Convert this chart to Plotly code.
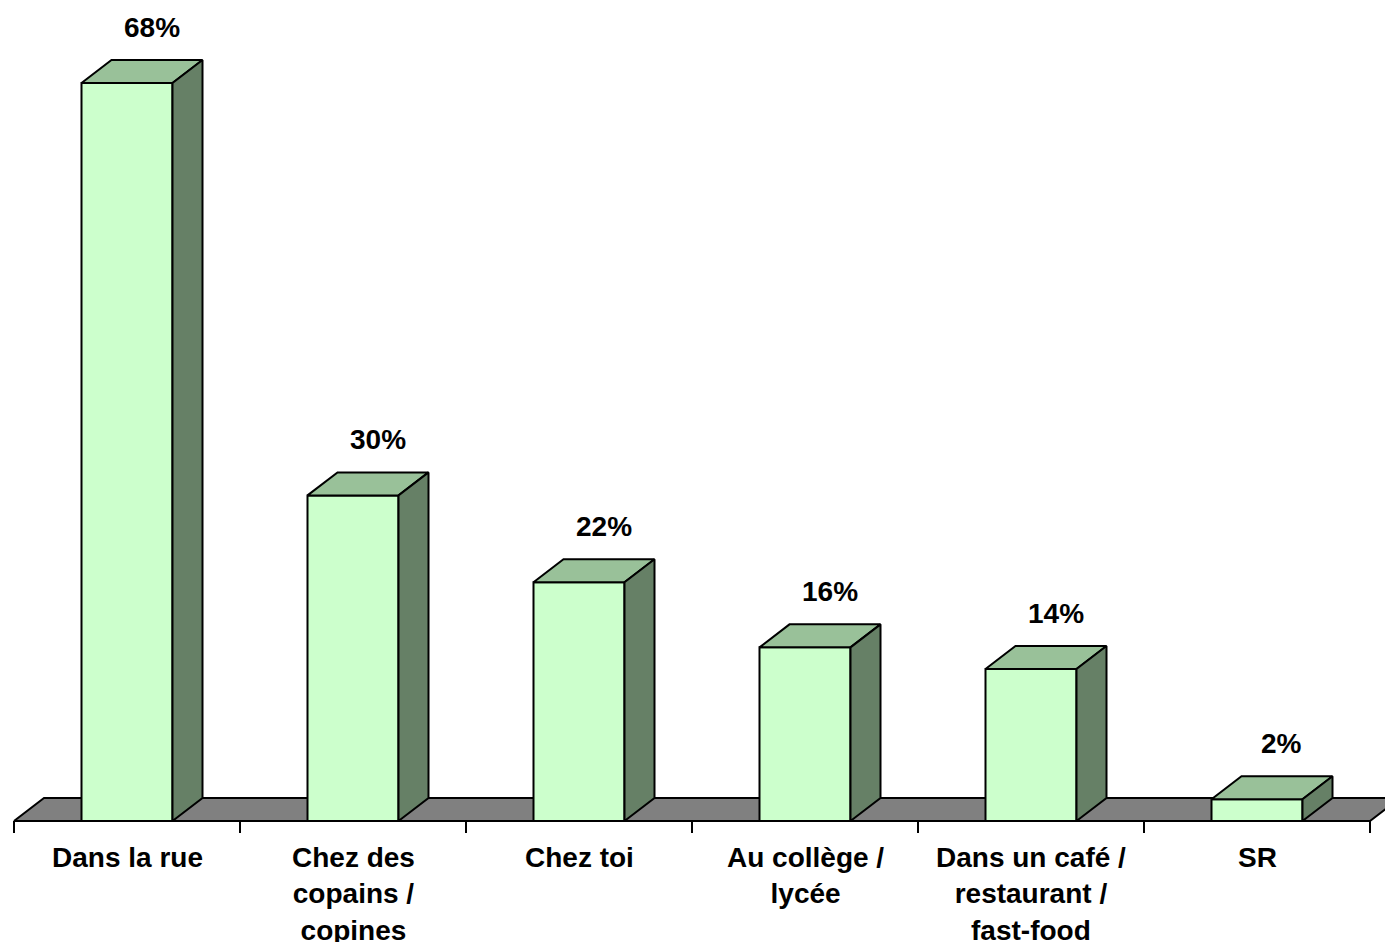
import plotly.graph_objects as go

# ---- data ----
categories = ["Dans la rue", "Chez des<br>copains /<br>copines", "Chez toi",
              "Au collège /<br>lycée", "Dans un café /<br>restaurant /<br>fast-food", "SR"]
values = [68, 30, 22, 16, 14, 2]
value_labels = [f"{v}%" for v in values]

# ---- style / geometry ----
W, H = 1385, 942
PX_X = 226.0            # px per category slot
PX_Y = 738 / 68         # px per percent
BASE_PX = 821           # pixel row of y=0
LEFT_PX = 14            # pixel col of x=-0.5
HW = 45.5 / PX_X        # half bar width
DX = 30 / PX_X          # 3D depth x
DY = 23 / PX_Y          # 3D depth y
FRONT = "#CCFFCC"
TOP = "#99C199"
SIDE = "#668066"
FLOOR = "#808080"
FONT = "Liberation Sans, Arial, sans-serif"
FS = 28

x0 = -0.5 - LEFT_PX / PX_X
x1 = x0 + W / PX_X
y1 = BASE_PX / PX_Y
y0 = y1 - H / PX_Y

n = len(values)
fig = go.Figure()


def poly(xs, ys, color):
    fig.add_trace(go.Scatter(x=xs + [xs[0]], y=ys + [ys[0]], mode="lines", fill="toself",
                             fillcolor=color, line=dict(color="black", width=2),
                             hoverinfo="skip", showlegend=False))


# floor
poly([-0.5, n - 0.5, n - 0.5 + DX, -0.5 + DX], [0, 0, DY, DY], FLOOR)

# ticks
tx, ty = [], []
tick_len = 12 / PX_Y
for k in range(n + 1):
    b = k - 0.5
    tx += [b, b, None]
    ty += [0, -tick_len, None]
fig.add_trace(go.Scatter(x=tx, y=ty, mode="lines", line=dict(color="black", width=2),
                         hoverinfo="skip", showlegend=False))

# bars
for i, v in enumerate(values):
    l, r = i - HW, i + HW
    poly([l, r, r, l], [0, 0, v, v], FRONT)
    poly([l, r, r + DX, l + DX], [v, v, v + DY, v + DY], TOP)
    poly([r, r + DX, r + DX, r], [0, DY, v + DY, v], SIDE)

annotations = []
for i, (v, t) in enumerate(zip(values, value_labels)):
    annotations.append(dict(x=i + 0.11, y=v + DY + 3.0, text=f"<b>{t}</b>", showarrow=False,
                            xanchor="center", yanchor="middle",
                            font=dict(family=FONT, size=FS, color="black")))
for i, c in enumerate(categories):
    annotations.append(dict(x=i, y=-(858 - 18 - BASE_PX) / PX_Y, text=f"<b>{c}</b>",
                            showarrow=False, xanchor="center", yanchor="top", valign="top",
                            font=dict(family=FONT, size=FS, color="black")))

fig.update_layout(
    width=W, height=H, margin=dict(l=0, r=0, t=0, b=0),
    paper_bgcolor="white", plot_bgcolor="white",
    xaxis=dict(range=[x0, x1], visible=False, fixedrange=True),
    yaxis=dict(range=[y0, y1], visible=False, fixedrange=True),
    annotations=annotations, showlegend=False,
)

fig.write_html("out.html", config={"displayModeBar": False})
with open("out.html", encoding="utf-8") as f:
    html = f.read()
html = html.replace("<body>", '<body style="margin:0;overflow:hidden">', 1)
with open("out.html", "w", encoding="utf-8") as f:
    f.write(html)
